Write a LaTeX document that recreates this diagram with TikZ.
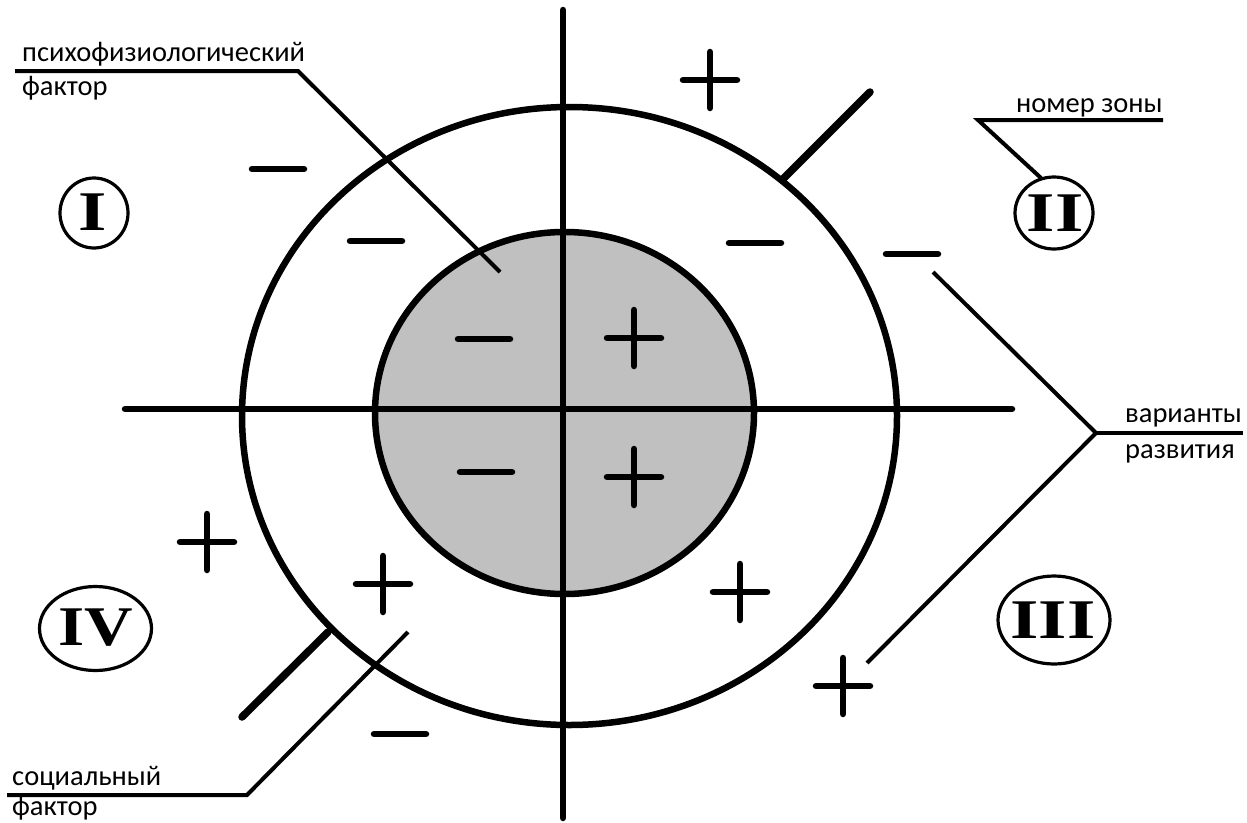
\documentclass[tikz,border=0pt]{standalone}
\usepackage{fontspec}
\setmainfont{Carlito}
\newfontfamily\romfont{Liberation Serif}
\usetikzlibrary{calc}
\definecolor{fillgray}{RGB}{192,192,192}
\begin{document}
\begin{tikzpicture}[x=1pt,y=-1pt,
  mainline/.style={line width=6.5pt,line cap=round},
  leader/.style={line width=4pt,line join=miter},
  thicktick/.style={line width=7.5pt,line cap=round},
  sign/.style={line width=6.5pt,line cap=round},
  zone/.style={line width=3.2pt},
  lbl/.style={anchor=base west,inner sep=0pt,font=\fontsize{28.5}{34}\selectfont},
  numeral/.style={inner sep=0pt,font=\romfont\bfseries\fontsize{56}{60}\selectfont},
  pls/.pic={\draw[sign] (-27,0)--(27,0) (0,-28)--(0,28);},
  mns/.pic={\draw[sign] (-26,0)--(26,0);}
]
\useasboundingbox (0,0) rectangle (1247,822);

% circles
\draw[mainline] (569.5,416) ellipse [x radius=327.5, y radius=309];
\filldraw[mainline,fill=fillgray] (564.5,413) ellipse [x radius=189.5, y radius=181];

% axes
\coordinate (vt) at (563,10);
\coordinate (vb) at (563,818);
\coordinate (hl) at (125,409);
\coordinate (hr) at (1012,409);
\draw[mainline] (vt) -- (vb);
\draw[mainline] (hl) -- (hr);

% thick ticks
\coordinate (t1a) at (782,180);
\coordinate (t1b) at (870,92);
\coordinate (t2a) at (328,632);
\coordinate (t2b) at (242,717);
\draw[thicktick] (t1a) -- (t1b);
\draw[thicktick] (t2a) -- (t2b);

% signs
\pic at (710,80) {pls};
\pic at (634,338) {pls};
\pic at (634,477) {pls};
\pic at (207,542) {pls};
\pic at (383,584) {pls};
\pic at (740,592) {pls};
\pic at (843,686) {pls};
\pic at (278,169) {mns};
\pic at (376,241) {mns};
\pic at (755,243) {mns};
\pic at (912,254) {mns};
\pic at (484,339) {mns};
\pic at (486,472) {mns};
\pic at (400,734) {mns};

% zone numerals
\node[numeral] (z1) at (93,212) {\scalebox{1.3}[1]{I}};
\node[numeral] (z2) at (1055,213) {\scalebox{1.3}[1]{II}};
\node[numeral] (z3) at (1053,620) {\scalebox{1.3}[1]{III}};
\node[numeral] (z4) at (96,628) {\scalebox{1.2}[1]{IV}};
\draw[zone] (94,213) ellipse [x radius=34, y radius=35];
\draw[zone] (1054,213) ellipse [x radius=39, y radius=36];
\draw[zone] (1054,620) ellipse [x radius=56, y radius=44];
\draw[zone] (95.5,628.5) ellipse [x radius=56, y radius=42];

% labels
\node[lbl] (psy1) at (22,61) {психофизиологический};
\node[lbl] (psy2) at (22,95) {фактор};
\node[lbl] (nz) at (1016,112) {номер зоны};
\node[lbl] (var1) at (1125,422) {варианты};
\node[lbl] (var2) at (1125,458) {развития};
\node[lbl] (soc1) at (12,785) {социальный};
\node[lbl] (soc2) at (12,815) {фактор};

% leaders
\coordinate (p1) at (15,71);
\coordinate (p2) at (298,71);
\coordinate (p3) at (500,272);
\draw[leader] (p1) -- (p2) -- (p3);

\coordinate (n1) at (1163,120);
\coordinate (n2) at (978,120);
\draw[leader] (n1) -- (n2) -- ($(z2)+(-14,-35)$);

\coordinate (v0) at (1243,433);
\coordinate (v1) at (1096,433);
\coordinate (v2) at (933,272);
\coordinate (v3) at (867,663);
\draw[leader] (v0) -- (v1);
\draw[leader] (v2) -- (v1) -- (v3);

\coordinate (s1) at (7,795);
\coordinate (s2) at (247,795);
\coordinate (s3) at (408,632);
\draw[leader] (s1) -- (s2) -- (s3);
\end{tikzpicture}
\end{document}
